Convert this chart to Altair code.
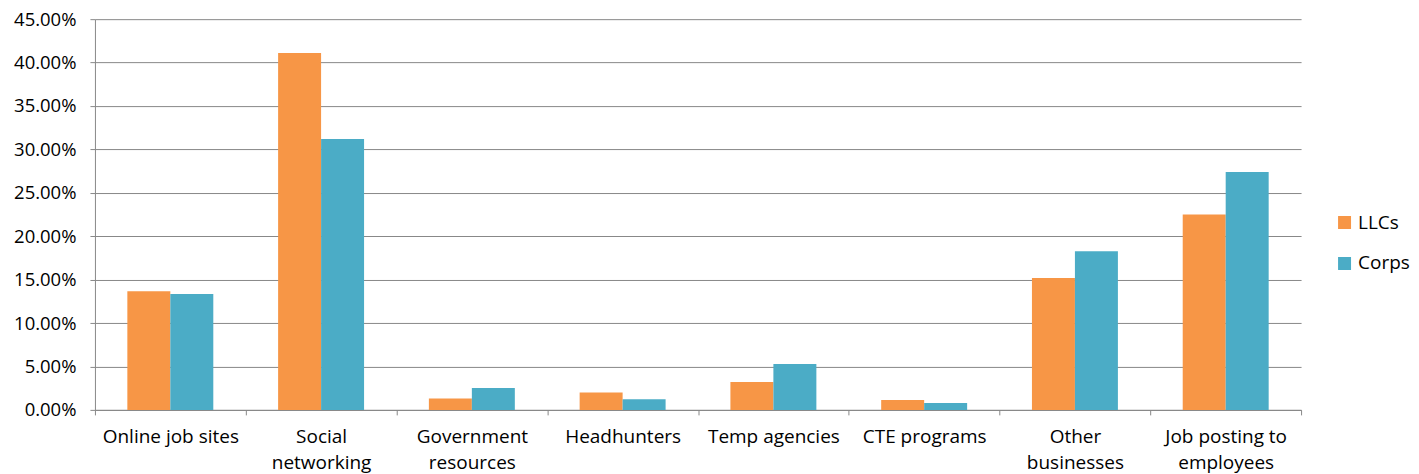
import json
import altair as alt
import pandas as pd

categories = ["Online job sites", "Social networking", "Government resources", "Headhunters",
              "Temp agencies", "CTE programs", "Other businesses", "Job posting to employees"]
label_lines = [["Online job sites"], ["Social", "networking"], ["Government", "resources"], ["Headhunters"],
               ["Temp agencies"], ["CTE programs"], ["Other", "businesses"], ["Job posting to", "employees"]]
series = ["LLCs", "Corps"]
llc_values = [0.1366, 0.411, 0.013, 0.020, 0.0322, 0.0115, 0.152, 0.225]
corps_values = [0.1335, 0.312, 0.0253, 0.0123, 0.0529, 0.008, 0.1826, 0.274]
y_ticks = [0.0, 0.05, 0.10, 0.15, 0.20, 0.25, 0.30, 0.35, 0.40, 0.45]
colors = ["#F79646", "#4BACC6"]

rows = []
for c, a, b in zip(categories, llc_values, corps_values):
    rows.append({"category": c, "series": "LLCs", "value": a})
    rows.append({"category": c, "series": "Corps", "value": b})
df = pd.DataFrame(rows)

expr = ""
for c, lines in zip(categories, label_lines):
    expr += f"datum.label == {json.dumps(c)} ? {json.dumps(lines)} : "
expr += "datum.label"

FONT = "Open Sans"
FS = 19
GRAY = "#888888"

chart = alt.Chart(df).mark_bar().encode(
    x=alt.X("category:N", sort=categories, title=None,
            scale=alt.Scale(paddingInner=0, paddingOuter=0),
            axis=alt.Axis(labelAngle=0, labelExpr=expr, tickBand="extent", grid=False,
                          domainColor=GRAY, tickColor=GRAY, tickSize=5,
                          labelFont=FONT, labelFontSize=FS, labelColor="#000000",
                          labelPadding=13, labelLineHeight=26)),
    xOffset=alt.XOffset("series:N", sort=series,
                        scale=alt.Scale(paddingInner=0, paddingOuter=0.754)),
    y=alt.Y("value:Q", title=None, scale=alt.Scale(domain=[0, 0.45], nice=False),
            axis=alt.Axis(values=y_ticks, format=".2%", grid=True, gridColor=GRAY,
                          domainColor=GRAY, tickColor=GRAY, tickSize=5,
                          labelFont=FONT, labelFontSize=18.5, labelColor="#000000",
                          labelPadding=14)),
    color=alt.Color("series:N", sort=series, scale=alt.Scale(domain=series, range=colors),
                    legend=alt.Legend(title=None, orient="none", legendX=1241, legendY=194,
                                      symbolType="square", symbolSize=169, symbolStrokeWidth=0,
                                      labelFont=FONT, labelFontSize=FS, labelColor="#000000",
                                      rowPadding=21, labelOffset=4)),
).properties(
    width=1207, height=391,
    autosize=alt.AutoSizeParams(type="none"),
    padding={"left": 87, "top": 11, "right": 110, "bottom": 64},
).configure_view(stroke=None)

chart.save("out.html", embed_options={"renderer": "svg", "actions": False})
